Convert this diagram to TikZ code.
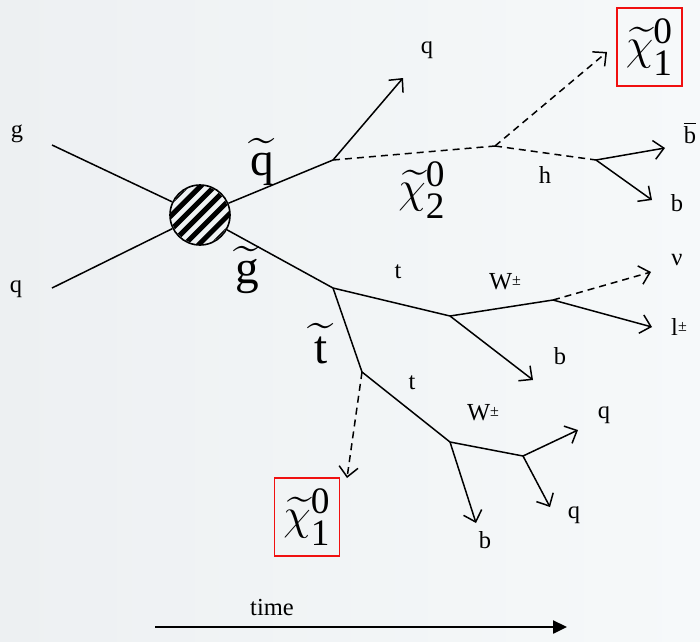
\documentclass[tikz,border=0pt]{standalone}
\usepackage{graphicx}
\usepackage{amsmath}
\usepackage{fontspec}
\setmainfont{Liberation Serif}
\usetikzlibrary{arrows.meta}
\definecolor{bgL}{HTML}{EDF0F2}
\definecolor{bgR}{HTML}{F6F9FA}
\definecolor{boxred}{HTML}{F01010}
\newcommand{\spart}[1]{\scalebox{1.9}{$\widetilde{\text{#1}}$}}
\newcommand{\neut}[1]{\scalebox{1.8}{$\widetilde{\chi}^{\text{0}}_{\text{#1}}$}}
\newcommand{\chg}{{\fontsize{16}{16}\selectfont\raisebox{4pt}{±}}}
\begin{document}
\begin{tikzpicture}[x=1pt,y=-1pt,
  line/.style={line width=1.5pt},
  arr/.style={line width=1.5pt,-{Straight Barb[length=10pt,width=19pt]}},
  darr/.style={arr,dash pattern=on 7pt off 5pt},
  dline/.style={line,dash pattern=on 7pt off 5pt},
  lbl/.style={font=\fontsize{24.5}{26}\selectfont,inner sep=0pt},
  big/.style={font=\fontsize{24.88}{26}\selectfont,inner sep=0pt},
  chi/.style={font=\fontsize{24.88}{26}\selectfont,inner sep=0pt},
  chibox/.style={draw=boxred,line width=1.3pt,font=\fontsize{24.88}{26}\selectfont,minimum width=65pt,minimum height=78pt,inner sep=0pt}]
\useasboundingbox (0,0) rectangle (700,641);
\shade[left color=bgL,right color=bgR] (0,0) rectangle (700,641);
% blob
\begin{scope}
\clip (200,215) circle (29pt);
\foreach \i in {-5,...,5}
  \draw[line width=5pt,shift={(200,215)}] ({\i*7.07-45},{\i*7.07+45}) -- ({\i*7.07+45},{\i*7.07-45});
\end{scope}
\node[circle,draw,line width=1.6pt,minimum size=60pt,inner sep=0pt] (blob) at (200,215) {};
% vertices and free ends
\coordinate (gin) at (52,145);
\coordinate (qin) at (52,288);
\coordinate (vq) at (333,160);
\coordinate (vchi) at (495,146);
\coordinate (vh) at (596,160);
\coordinate (vg) at (333,288);
\coordinate (vt) at (450,316);
\coordinate (vW) at (553,300);
\coordinate (vst) at (362,372);
\coordinate (vt2) at (450,442);
\coordinate (vW2) at (523,456);
\coordinate (eq) at (403,78);
\coordinate (echi) at (607,52);
\coordinate (ebb) at (665,148);
\coordinate (eb) at (652,200);
\coordinate (enu) at (651,272);
\coordinate (el) at (652,327);
\coordinate (eb2) at (533,380);
\coordinate (echi2) at (347,478);
\coordinate (eq2) at (578,430);
\coordinate (eq3) at (550,507);
\coordinate (eb3) at (476,523);
\coordinate (tstart) at (155,627);
\coordinate (tend) at (567,627);
% lines
\draw[line] (gin) -- (blob);
\draw[line] (qin) -- (blob);
\draw[line] (blob) -- (vq);
\draw[arr] (vq) -- (eq);
\draw[dline] (vq) -- (vchi);
\draw[darr] (vchi) -- (echi);
\draw[dline] (vchi) -- (vh);
\draw[arr] (vh) -- (ebb);
\draw[arr] (vh) -- (eb);
\draw[line] (blob) -- (vg);
\draw[line] (vg) -- (vt);
\draw[line] (vt) -- (vW);
\draw[darr] (vW) -- (enu);
\draw[arr] (vW) -- (el);
\draw[arr] (vt) -- (eb2);
\draw[line] (vg) -- (vst);
\draw[darr] (vst) -- (echi2);
\draw[line] (vst) -- (vt2);
\draw[line] (vt2) -- (vW2);
\draw[arr] (vW2) -- (eq2);
\draw[arr] (vW2) -- (eq3);
\draw[arr] (vt2) -- (eb3);
\draw[line width=2.4pt,-{Triangle[length=14pt,width=13pt]}] (tstart) -- (tend);
% labels
\node[lbl] (lg) at (17,134) {g};
\node[lbl] (lq) at (16,289) {q};
\node[big] (lsq) at (262,162) {\spart{q}};
\node[big] (lgl) at (247,270) {\spart{g}};
\node[big] (lst) at (321,344) {\spart{t}};
\node[lbl] (lq1) at (427,50) {q};
\node[chi] (lchi2) at (422,190) {\neut{2}};
\node[lbl] (lh) at (545,175) {h};
\node[lbl] (lbb) at (690,133) {$\overline{\text{b}}$};
\node[lbl] (lb1) at (677,203) {b};
\node[lbl] (lt1) at (398,272) {t};
\node[lbl] (lW1) at (505,282) {W\chg};
\node[lbl] (lnu) at (677,260) {ν};
\node[lbl] (ll) at (679,327) {l\chg};
\node[lbl] (lb2) at (560,356) {b};
\node[lbl] (lt2) at (412,383) {t};
\node[lbl] (lW2) at (483,413) {W\chg};
\node[lbl] (lq2) at (604,415) {q};
\node[lbl] (lq3) at (574,515) {q};
\node[lbl] (lb3) at (485,540) {b};
\node[lbl] (ltime) at (272,607) {time};
\node[chibox] (box1) at (649.5,47) {\neut{1}};
\node[chibox] (box2) at (307,517) {\neut{1}};
\end{tikzpicture}
\end{document}
